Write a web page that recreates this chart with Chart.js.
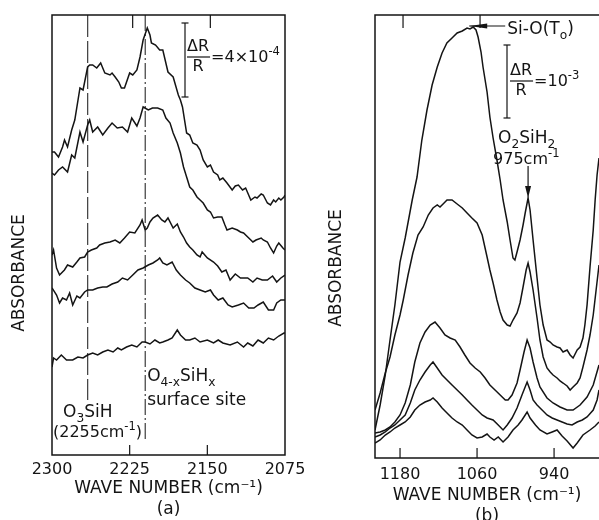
<!DOCTYPE html>
<html>
<head>
<meta charset="utf-8">
<script src="https://cdn.jsdelivr.net/npm/chart.js@4.4.1/dist/chart.umd.min.js"></script>
<style>
  html, body { margin: 0; padding: 0; background: #fff; overflow: hidden; }
  canvas { position: absolute; top: 0; }
  #chartA { left: 0; }
  #chartB { left: 300px; }
</style>
</head>
<body>
<canvas id="chartA" width="320" height="520"></canvas>
<canvas id="chartB" width="299" height="527"></canvas>
<script>
// ---- panel (a): Si-H stretch region, wave number (cm-1) / absorbance (arb.) ----
const waveA1 = [2300, 2297.6, 2293.7, 2289.8, 2287.9, 2285, 2281, 2278, 2273, 2270, 2265.6, 2263.6, 2260.7, 2256.8, 2253, 2249, 2244, 2242, 2239, 2235.5, 2233, 2230, 2225, 2222, 2218, 2215, 2212, 2208, 2205.4, 2204, 2200, 2196, 2193, 2188, 2183, 2178, 2176, 2174, 2170, 2167, 2164, 2160, 2157, 2154, 2150, 2147, 2144, 2140, 2138, 2135, 2131, 2126, 2123, 2120, 2116, 2113, 2108, 2104, 2102, 2098, 2096, 2092, 2089, 2086, 2084, 2081, 2079, 2076, 2075];
const absA1 = [303, 303, 298, 308, 315, 308, 325, 335, 367, 365, 388, 390, 390, 387, 392, 382, 380, 382, 378, 373, 367, 367, 382, 380, 385, 398, 415, 427, 420, 412, 410, 405, 405, 383, 378, 360, 355, 348, 322, 320, 312, 310, 305, 295, 288, 290, 283, 280, 275, 277, 272, 265, 269, 270, 265, 267, 255, 258, 257, 261, 260, 252, 250, 255, 253, 257, 255, 258, 260];

const waveA2 = [2300, 2297.6, 2293.7, 2289.8, 2285, 2281, 2278, 2273, 2270, 2265.6, 2263.6, 2260.7, 2255.9, 2251, 2246, 2242, 2237, 2232, 2227, 2223, 2218, 2215, 2212, 2207, 2203, 2198, 2193, 2190, 2186, 2183, 2179, 2176, 2173, 2170, 2167, 2164, 2160, 2157, 2154, 2150, 2147, 2144, 2140, 2136, 2133, 2131, 2126, 2121, 2118, 2115, 2110, 2106, 2103, 2098, 2096, 2092, 2089, 2086, 2083, 2081, 2077, 2075];
const absA2 = [282, 280, 285, 288, 283, 300, 297, 323, 313, 330, 335, 323, 328, 320, 327, 332, 327, 328, 323, 337, 329, 337, 348, 345, 347, 347, 345, 337, 332, 322, 312, 302, 288, 278, 268, 265, 258, 255, 252, 245, 243, 237, 238, 238, 230, 225, 227, 225, 223, 222, 217, 213, 215, 217, 215, 213, 207, 202, 209, 212, 207, 205];

const waveA3 = [2300, 2298.5, 2295.6, 2292.7, 2288, 2285, 2280, 2276, 2273, 2268.5, 2265.6, 2262, 2256.8, 2254, 2249, 2244, 2239, 2234.5, 2230, 2225, 2220, 2215, 2213, 2210, 2208, 2205.4, 2202.5, 2198, 2194, 2191, 2188, 2183, 2179, 2176, 2173, 2170, 2167, 2164, 2160, 2157, 2155, 2150, 2144, 2140, 2136, 2132, 2128, 2123, 2118, 2111, 2106, 2102, 2097, 2092, 2087, 2083, 2079, 2075];
const absA3 = [200, 205, 187, 180, 185, 190, 188, 193, 197, 198, 203, 205, 207, 210, 212, 213, 215, 212, 217, 223, 222, 230, 235, 225, 227, 233, 237, 240, 235, 233, 237, 227, 231, 223, 218, 212, 208, 205, 200, 198, 203, 197, 193, 189, 183, 185, 175, 181, 177, 177, 173, 177, 175, 175, 179, 173, 177, 180];

const waveA4 = [2300, 2295.6, 2292.7, 2289.8, 2286, 2283, 2280, 2276, 2273, 2268.5, 2265.6, 2260.7, 2255.9, 2251, 2247, 2242, 2236.5, 2232, 2227, 2222, 2217, 2212, 2207, 2202.5, 2198, 2196, 2193, 2189, 2184, 2180, 2176, 2171, 2167, 2162, 2157, 2152, 2147, 2144, 2139.5, 2135, 2130, 2126, 2120, 2115, 2110, 2105, 2101, 2096, 2091, 2086, 2083, 2079, 2075];
const absA4 = [167, 160, 152, 157, 155, 162, 150, 159, 157, 163, 165, 165, 167, 168, 168, 171, 173, 177, 175, 180, 185, 187, 190, 192, 195, 197, 192, 190, 193, 185, 180, 175, 172, 167, 165, 163, 165, 160, 155, 157, 150, 148, 150, 152, 147, 147, 150, 153, 145, 145, 152, 155, 155];

const waveA5 = [2300, 2298.5, 2295.6, 2291, 2286, 2280, 2275, 2270, 2265.6, 2260.7, 2255.9, 2251, 2246, 2241, 2236.5, 2233, 2228, 2223, 2218, 2213, 2210, 2205.4, 2200.6, 2196, 2193, 2188, 2184, 2179, 2176, 2171, 2167, 2162, 2157, 2150, 2144, 2139.5, 2135, 2128, 2121, 2115, 2111, 2106, 2101, 2096, 2091, 2086, 2081, 2076, 2075];
const absA5 = [88, 97, 95, 100, 95, 95, 98, 97, 100, 102, 100, 103, 105, 103, 107, 105, 108, 110, 108, 113, 113, 111, 115, 112, 113, 115, 117, 125, 120, 115, 115, 117, 113, 115, 112, 115, 112, 110, 113, 108, 112, 109, 115, 112, 117, 115, 119, 122, 122];

const ticksA = [2300, 2225, 2150, 2075];
const innerTicksA = [2225, 2150];
const markO3SiH = 2265.5;     // dashed line
const markO4SiHx = 2210;      // dash-dot line

// ---- panel (b): Si-O / O2SiH2 region ----
const waveB1 = [1219, 1211, 1203, 1195.6, 1188, 1180, 1172, 1161, 1153.5, 1146, 1138, 1130, 1122, 1114.5, 1107, 1099, 1091, 1083, 1075.6, 1071, 1066, 1061.6, 1058.4, 1053.8, 1050.7, 1044.4, 1040, 1035, 1029, 1024, 1019.5, 1013, 1008.6, 1004, 1001, 997.7, 993, 988.3, 985, 980.5, 977.4, 972.7, 966.5, 962, 957, 951, 946, 941.6, 935.3, 930.7, 926, 919.7, 915, 910.4, 904, 899.5, 895, 892, 888.6, 884, 879, 876, 873, 870];
const absB1 = [28, 53, 83, 118, 153, 196, 220, 258, 281, 318, 348, 373, 391, 405, 415, 420, 425, 427, 430, 429, 431, 428, 421, 406, 391, 366, 341, 320, 298, 278, 258, 236, 218, 200, 198, 206, 218, 233, 245, 260, 248, 218, 180, 153, 133, 118, 116, 113, 111, 110, 106, 108, 103, 100, 108, 111, 120, 133, 153, 191, 228, 258, 283, 300];

const waveB2 = [1219, 1211, 1203, 1195.6, 1188, 1180, 1175, 1167.5, 1160, 1152, 1144, 1136, 1128.6, 1122, 1117.7, 1111.4, 1106.8, 1099, 1091, 1083, 1075.6, 1068, 1060, 1052, 1044.4, 1040, 1035, 1029, 1024, 1019.5, 1013, 1008.6, 1004, 997.7, 993, 988.3, 983.5, 980.5, 977.4, 972.7, 966.5, 962, 957, 951, 946, 941.6, 935.3, 930.7, 926, 919.7, 915, 910.4, 904, 899.5, 895, 888.6, 884, 879, 874.5, 870];
const absB2 = [48, 65, 85, 101, 123, 143, 158, 183, 205, 223, 231, 243, 250, 253, 251, 255, 258, 258, 254, 250, 245, 240, 235, 223, 201, 188, 175, 158, 146, 138, 133, 132, 138, 145, 155, 171, 188, 195, 186, 168, 140, 118, 101, 90, 86, 83, 80, 77, 75, 72, 68, 71, 75, 80, 91, 108, 123, 143, 168, 193];

const waveB3 = [1219, 1211, 1203, 1195.6, 1188, 1180, 1172, 1164, 1157, 1149, 1141, 1133, 1125.5, 1117.7, 1110, 1102, 1094, 1086.5, 1079, 1071, 1063, 1055, 1047.5, 1040, 1032, 1024, 1016, 1011.7, 1005.5, 997.7, 993, 986.8, 982, 977.4, 972.7, 966.5, 962, 951, 941.6, 930.7, 919.7, 910.4, 899.5, 888.6, 879, 870];
const absB3 = [25, 26, 28, 31, 36, 43, 55, 73, 96, 115, 126, 133, 136, 130, 123, 120, 118, 111, 103, 95, 90, 86, 80, 73, 68, 63, 58, 58, 63, 75, 88, 106, 118, 110, 96, 80, 71, 60, 55, 51, 48, 48, 53, 61, 73, 93];

const waveB4 = [1219, 1211, 1203, 1195.6, 1188, 1180, 1172, 1164, 1157, 1149, 1141, 1133, 1128.6, 1122, 1114.5, 1106.8, 1099, 1091, 1083, 1075.6, 1068, 1060, 1052, 1044.4, 1035, 1027, 1019.5, 1013, 1005.5, 997.7, 990, 982, 977.4, 972.7, 966.5, 958.7, 951, 943, 935.3, 927.5, 919.7, 912, 904, 896, 888.6, 879, 873, 870];
const absB4 = [21, 23, 26, 30, 33, 38, 43, 55, 68, 78, 86, 93, 96, 90, 83, 78, 73, 68, 63, 58, 53, 48, 43, 40, 38, 33, 28, 33, 40, 50, 63, 76, 68, 58, 53, 48, 43, 40, 38, 36, 34, 33, 36, 38, 41, 48, 58, 68];

const waveB5 = [1219, 1211, 1203, 1195.6, 1188, 1180, 1172, 1164, 1157, 1149, 1141, 1133, 1128.6, 1122, 1114.5, 1106.8, 1099, 1091, 1083, 1075.6, 1068, 1060, 1052, 1044.4, 1040, 1033.5, 1027, 1019.5, 1011.7, 1004, 996, 990, 982, 977.4, 969, 962, 951, 943, 935.3, 927.5, 919.7, 910.4, 904, 895, 884, 876, 870];
const absB5 = [15, 18, 23, 26, 30, 33, 36, 41, 48, 53, 56, 58, 60, 56, 50, 45, 40, 36, 33, 28, 23, 20, 21, 24, 21, 18, 21, 16, 21, 28, 33, 38, 46, 40, 33, 28, 24, 26, 28, 22, 17, 10, 15, 23, 28, 32, 36];

const ticksB = [1180, 1060, 940];
const topTicksB = [1180, 1060];
const peakSiO = 1066;
const peakO2SiH2 = 980.5;

// ---- common look ----
const INK = "#141414";
const FONT = '"DejaVu Sans", sans-serif';

function toPoints(xs, ys) {
  return xs.map((x, i) => ({ x: x, y: ys[i] }));
}

function traces(list) {
  return list.map(([xs, ys]) => ({
    data: toPoints(xs, ys),
    borderColor: INK,
    borderWidth: 1.5,
    pointRadius: 0,
    tension: 0,
    fill: false,
  }));
}

function line(ctx, x1, y1, x2, y2) {
  ctx.beginPath();
  ctx.moveTo(x1, y1);
  ctx.lineTo(x2, y2);
  ctx.stroke();
}

// text with sub/superscripts: "_x" = subscript, "^x" = superscript
function rich(ctx, x, y, parts, size) {
  ctx.textAlign = "left";
  ctx.textBaseline = "middle";
  let cx = x;
  parts.forEach((p) => {
    let txt = p, dy = 0, s = size;
    if (p[0] === "_") { txt = p.slice(1); dy = size * 0.35; s = size * 0.72; }
    if (p[0] === "^") { txt = p.slice(1); dy = -size * 0.4; s = size * 0.72; }
    ctx.font = s + "px " + FONT;
    ctx.fillText(txt, cx, y + dy);
    cx += ctx.measureText(txt).width;
  });
  return cx;
}

// vertical bar with small serifs (the ΔR/R scale marker)
function scaleBar(ctx, x, y1, y2) {
  line(ctx, x, y1, x, y2);
  line(ctx, x - 3.5, y1, x + 3.5, y1);
  line(ctx, x - 3.5, y2, x + 3.5, y2);
}

// ΔR / R fraction followed by "=<text>" and a superscript
function fraction(ctx, left, mid, main, sup) {
  ctx.font = "16px " + FONT;
  ctx.textAlign = "center";
  ctx.textBaseline = "middle";
  const w = ctx.measureText("ΔR").width;
  ctx.fillText("ΔR", left + w / 2, mid - 10);
  ctx.fillText("R", left + w / 2, mid + 10);
  ctx.lineWidth = 1.2;
  line(ctx, left, mid, left + w + 1, mid);
  rich(ctx, left + w + 2, mid + 1, [main, "^" + sup], 16);
}

function yTitle(ctx, x, y) {
  ctx.save();
  ctx.translate(x, y);
  ctx.rotate(-Math.PI / 2);
  ctx.font = "17px " + FONT;
  ctx.textAlign = "center";
  ctx.textBaseline = "middle";
  ctx.fillText("ABSORBANCE", 0, 0);
  ctx.restore();
}

function xAxis(min, max, tickValues, title, height, pad) {
  return {
    type: "linear",
    reverse: true,
    min: min,
    max: max,
    afterBuildTicks: (s) => { s.ticks = tickValues.map((v) => ({ value: v })); },
    afterFit: (s) => { s.height = height; s.paddingLeft = 0; s.paddingRight = 0; },
    grid: { display: false, drawTicks: false },
    border: { display: false },
    ticks: {
      color: INK,
      padding: pad,
      font: { family: FONT, size: 16 },
      maxRotation: 0,
      autoSkip: false,
      callback: (v) => String(v),
    },
    title: {
      display: true,
      text: title,
      color: INK,
      font: { family: FONT, size: 17, lineHeight: 1.235 },
      padding: { top: 0, bottom: 0 },
    },
  };
}

const panelAExtras = {
  id: "panelAExtras",
  afterDraw(chart) {
    const { ctx, chartArea: a, scales: { x } } = chart;
    ctx.save();
    ctx.strokeStyle = INK;
    ctx.fillStyle = INK;
    ctx.lineWidth = 1.5;
    ctx.strokeRect(a.left, a.top, a.right - a.left, a.bottom - a.top);
    ctx.lineWidth = 1.2;
    innerTicksA.forEach((v) => {
      const px = x.getPixelForValue(v);
      line(ctx, px, a.bottom, px, a.bottom - 10);
      line(ctx, px + 3, a.top, px + 3, a.top + 13);
    });
    // band positions
    ctx.lineWidth = 1;
    const p1 = x.getPixelForValue(markO3SiH);
    ctx.setLineDash([22, 4]);
    line(ctx, p1, a.top, p1, 400);
    const p2 = x.getPixelForValue(markO4SiHx);
    ctx.setLineDash([16, 3, 2, 3]);
    line(ctx, p2, a.top, p2, 442);
    ctx.setLineDash([]);

    rich(ctx, 63, 413, ["O", "_3", "SiH"], 17);
    rich(ctx, 53, 433, ["(2255cm", "^-1", ")"], 16);
    rich(ctx, p2 + 2, 377, ["O", "_4-x", "SiH", "_x"], 17);
    rich(ctx, p2 + 2, 401, ["surface site"], 17);

    ctx.lineWidth = 1.2;
    scaleBar(ctx, 185, 23, 97);
    fraction(ctx, 187, 57, "=4×10", "-4");
    yTitle(ctx, 20, 273);
    ctx.restore();
  },
};

const panelBExtras = {
  id: "panelBExtras",
  afterDraw(chart) {
    const { ctx, chartArea: a, scales: { x } } = chart;
    ctx.save();
    ctx.strokeStyle = INK;
    ctx.fillStyle = INK;
    ctx.lineWidth = 1.5;
    ctx.beginPath();
    ctx.moveTo(chart.width, a.top);
    ctx.lineTo(a.left, a.top);
    ctx.lineTo(a.left, a.bottom);
    ctx.lineTo(chart.width, a.bottom);
    ctx.stroke();
    ctx.lineWidth = 1.2;
    ticksB.forEach((v) => {
      const px = x.getPixelForValue(v);
      line(ctx, px, a.bottom, px, a.bottom - 10);
    });
    topTicksB.forEach((v) => {
      const px = x.getPixelForValue(v) + 3;
      line(ctx, px, a.top, px, a.top + 13);
    });

    // Si-O(To) pointer
    const ps = x.getPixelForValue(peakSiO) - 4;
    line(ctx, ps, 26, ps + 36, 26);
    ctx.beginPath();
    ctx.moveTo(ps, 26);
    ctx.lineTo(ps + 18, 23.5);
    ctx.lineTo(ps + 18, 28.5);
    ctx.closePath();
    ctx.fill();
    rich(ctx, ps + 38, 30, ["Si-O(T", "_o", ")"], 17);

    scaleBar(ctx, 207, 45, 118);
    fraction(ctx, 210, 81, "=10", "-3");

    // O2SiH2 pointer
    const po = x.getPixelForValue(peakO2SiH2);
    rich(ctx, po - 30, 139, ["O", "_2", "SiH", "_2"], 17);
    rich(ctx, po - 35, 160, ["975cm", "^-1"], 16);
    line(ctx, po, 166, po, 190);
    ctx.beginPath();
    ctx.moveTo(po, 198);
    ctx.lineTo(po - 3, 186);
    ctx.lineTo(po + 3, 186);
    ctx.closePath();
    ctx.fill();

    yTitle(ctx, 37, 268);
    ctx.restore();
  },
};

function baseOptions(xScale, yMax, padding) {
  return {
    responsive: false,
    animation: false,
    layout: { padding: padding },
    plugins: { legend: { display: false }, tooltip: { enabled: false } },
    scales: {
      x: xScale,
      y: { display: false, min: 0, max: yMax },
    },
  };
}

new Chart(document.getElementById("chartA").getContext("2d"), {
  type: "line",
  data: {
    datasets: traces([
      [waveA1, absA1], [waveA2, absA2], [waveA3, absA3], [waveA4, absA4], [waveA5, absA5],
    ]),
  },
  options: baseOptions(
    xAxis(2075, 2300, ticksA, ["WAVE NUMBER (cm⁻¹)", "(a)"], 65, 5),
    440,
    { left: 52, right: 35, top: 15, bottom: 0 }
  ),
  plugins: [panelAExtras],
});

new Chart(document.getElementById("chartB").getContext("2d"), {
  type: "line",
  data: {
    datasets: traces([
      [waveB1, absB1], [waveB2, absB2], [waveB3, absB3], [waveB4, absB4], [waveB5, absB5],
    ]),
  },
  options: baseOptions(
    xAxis(870, 1219, ticksB, ["WAVE NUMBER (cm⁻¹)", "(b)"], 69, 7),
    443,
    { left: 75, right: 0, top: 15, bottom: 0 }
  ),
  plugins: [panelBExtras],
});
</script>
</body>
</html>
